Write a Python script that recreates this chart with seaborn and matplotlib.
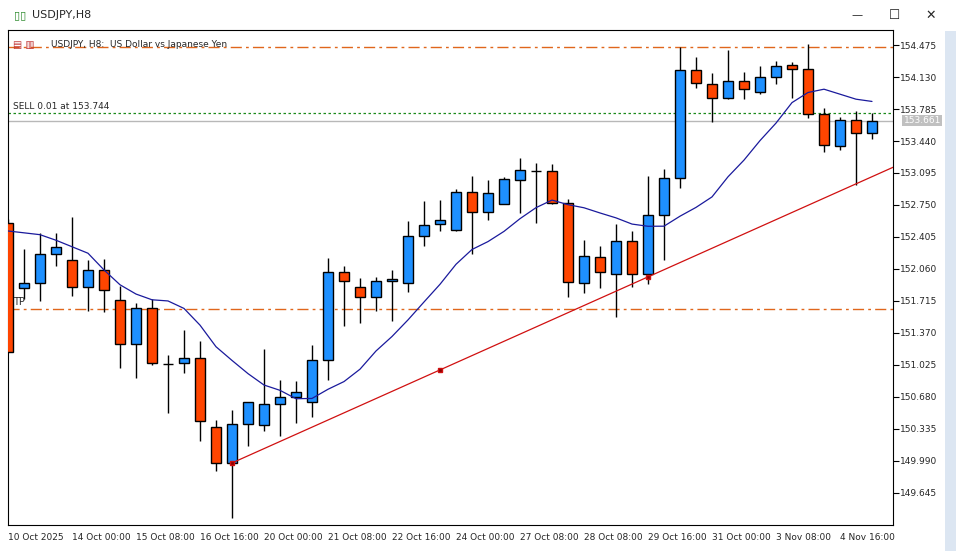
import numpy as np
import pandas as pd
import matplotlib
matplotlib.use("Agg")
import matplotlib.pyplot as plt
import seaborn as sns

opens = [152.556,151.855,151.909,152.222,152.157,151.866,152.049,151.726,151.252,151.640,
         151.036,151.047,151.101,150.357,149.969,150.389,150.378,150.605,150.680,150.626,
         151.079,152.028,151.866,151.758,151.931,151.909,152.416,152.545,152.481,152.890,
         152.675,152.761,153.020,153.117,153.117,152.772,151.909,152.190,152.006,152.362,
         152.006,152.642,153.041,154.205,154.055,153.904,154.087,153.968,154.130,154.259,
         154.216,153.731,153.386,153.667,153.526]
highs = [152.600,152.276,152.448,152.448,152.621,152.157,152.168,151.877,151.694,151.737,
         151.133,151.403,151.284,150.432,150.540,150.626,151.198,150.864,150.853,151.241,
         152.179,152.093,151.963,151.974,152.049,152.578,152.793,152.804,152.923,153.063,
         153.020,153.052,153.257,153.203,153.192,152.815,152.373,152.308,152.545,152.470,
         153.063,153.138,154.453,154.346,154.173,154.421,154.184,154.249,154.303,154.292,
         154.486,153.796,153.699,153.763,153.742]
lows = [151.165,151.737,151.715,152.093,151.769,151.607,151.597,150.993,150.885,151.025,
        150.508,150.939,150.206,149.883,149.376,150.152,150.314,150.260,150.400,150.465,
        150.864,151.446,151.478,151.607,151.500,151.812,152.308,152.470,152.470,152.222,
        152.588,152.761,152.664,152.556,152.761,151.758,151.802,151.855,151.543,151.866,
        151.899,152.157,152.933,154.011,153.645,153.893,153.893,153.947,154.055,153.904,
        153.688,153.322,153.343,152.966,153.462]
closes = [151.165,151.909,152.222,152.297,151.866,152.049,151.834,151.252,151.640,151.047,
          151.040,151.101,150.422,149.969,150.389,150.626,150.605,150.680,150.734,151.079,
          152.028,151.931,151.758,151.931,151.952,152.416,152.535,152.588,152.890,152.675,
          152.880,153.031,153.128,153.117,152.772,151.920,152.200,152.028,152.362,152.006,
          152.642,153.041,154.205,154.065,153.904,154.087,154.001,154.130,154.249,154.216,
          153.731,153.397,153.667,153.526,153.661]
ma_head = [152.47,152.45,152.43,152.37,152.30,152.23,152.05,151.89,151.79]
ma_period = 10

tick_labels = ["10 Oct 2025","14 Oct 00:00","15 Oct 08:00","16 Oct 16:00","20 Oct 00:00",
               "21 Oct 08:00","22 Oct 16:00","24 Oct 00:00","27 Oct 08:00","28 Oct 08:00",
               "29 Oct 16:00","31 Oct 00:00","3 Nov 08:00","4 Nov 16:00"]
tick_step = 4
price_ticks = [154.475,154.130,153.785,153.440,153.095,152.750,152.405,152.060,151.715,
               151.370,151.025,150.680,150.335,149.990,149.645]
tp_level = 151.629
top_level = 154.453
sell_level = 153.744
bid = 153.661
trend_idx = [14, 27, 40]
trend_p0 = 149.969
trend_p1 = 150.972

df = pd.DataFrame({"o": opens, "h": highs, "l": lows, "c": closes})
df["i"] = np.arange(len(df))
ma = df["c"].rolling(ma_period).mean().to_numpy()
ma[:len(ma_head)] = ma_head
df["ma"] = ma

sns.set_style("white")
plt.rcParams['font.family'] = ['DejaVu Sans']
fig = plt.figure(figsize=(9.56, 5.51), dpi=100)
W, H = 956, 551
ax = fig.add_axes([8/W, (H-525)/H, (893-8)/W, 495/H])

bull, bear = "#1E90FF", "#FF4500"
up = df["c"] >= df["o"]
ax.vlines(df["i"], df["l"], df["h"], color="black", lw=1, zorder=2)
bottoms = np.minimum(df["o"], df["c"])
heights = np.abs(df["c"] - df["o"]).clip(lower=0.004)
ax.bar(df["i"], heights, bottom=bottoms, width=0.62,
       color=np.where(up, bull, bear), edgecolor="black", linewidth=1, zorder=3)
sns.lineplot(data=df, x="i", y="ma", ax=ax, color="#1A1A9C", lw=0.9, zorder=4)

slope = (trend_p1 - trend_p0) / (trend_idx[1] - trend_idx[0])
ax.plot([trend_idx[0], 60], [trend_p0, trend_p0 + slope*(60-trend_idx[0])], color="#D01010", lw=0.9, zorder=4)
for t in trend_idx:
    ax.plot(t, trend_p0 + slope*(t-trend_idx[0]), marker="s", ms=3.5, color="#8B0000",
            mec="#D01010", zorder=5)

ax.axhline(top_level, color="#E0661C", lw=1, dashes=(8, 3, 2, 3), zorder=1)
ax.axhline(tp_level, color="#E0661C", lw=1, dashes=(8, 3, 2, 3), zorder=1)
ax.axhline(sell_level, color="#1A8A1A", lw=0.9, dashes=(2, 2), zorder=1)
ax.axhline(bid, color="#B8B8B8", lw=1, zorder=1)
ax.text(0.3, tp_level + 0.02, "TP", fontsize=7, va="bottom", ha="left")
ax.text(0.3, sell_level + 0.02, "SELL 0.01 at 153.744", fontsize=6.5, va="bottom", ha="left")
ax.text(2.7, 154.48, "USDJPY, H8:  US Dollar vs Japanese Yen", fontsize=6.5, va="center", ha="left")
ax.text(0.3, 154.48, "▤ ▥", fontsize=7, va="center", ha="left", color="#C03030")

ax.set_xlim(0, (893-8)/16)
ax.set_ylim(154.475 - 480*0.345/32, 154.475 + 15*0.345/32)
ax.yaxis.tick_right()
ax.set_yticks(price_ticks)
ax.set_yticklabels([f"{p:.3f}" for p in price_ticks])
pos = np.arange(0, len(df), tick_step)[:len(tick_labels)]
ax.set_xticks(pos)
ax.set_xticklabels(tick_labels, ha="left")
ax.tick_params(axis="both", labelsize=6.5, length=4, width=0.8, color="black", direction="out", pad=2)
ax.tick_params(axis="y", pad=1)
ax.set_xlabel(""); ax.set_ylabel("")
for s in ax.spines.values():
    s.set_color("black"); s.set_linewidth(0.8)
ax.text(1.012, bid, f"{bid:.3f}", transform=ax.get_yaxis_transform(), fontsize=6.5,
        color="white", va="center", ha="left",
        bbox=dict(boxstyle="square,pad=0.15", fc="#C0C0C0", ec="none"))

fig.text(32/W, 1-15/H, "USDJPY,H8", fontsize=8, va="center", ha="left")
fig.text(14/W, 1-15/H, "▯▯", fontsize=8, va="center", ha="left", color="#2E8B2E")
fig.text(857/W, 1-15/H, "—", fontsize=8, va="center", ha="center")
fig.text(895/W, 1-15/H, "☐", fontsize=9, va="center", ha="center")
fig.text(931/W, 1-15/H, "✕", fontsize=9, va="center", ha="center")
fig.patches.append(plt.Rectangle((945/W, 0), 11/W, 520/H, transform=fig.transFigure,
                                 fc="#DCE6F2", ec="none"))
fig.savefig("out.png", dpi=100)
